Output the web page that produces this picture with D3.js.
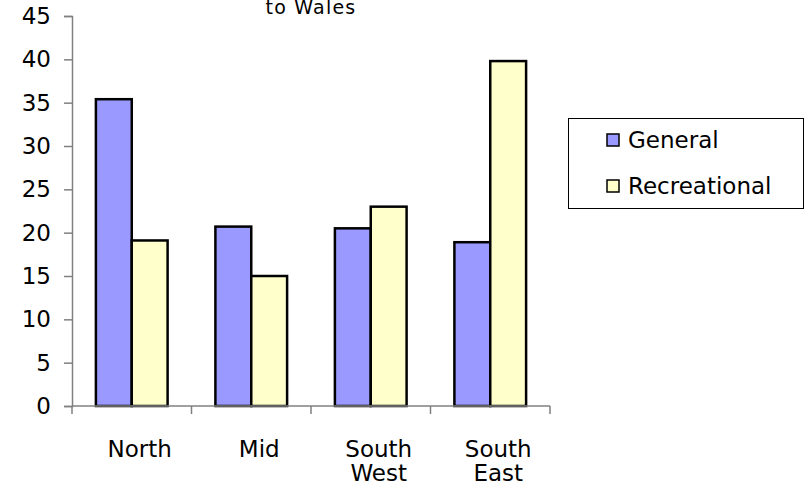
<html><head>
  <script src="https://d3js.org/d3.v7.min.js"></script>
  <style>
    body { margin: 0; background: #fff; }
    text { font-family: 'DejaVu Sans', Verdana, sans-serif; fill: #000; }
  </style>
</head>
<body>
  <script>
    // data
    const regions = ["North", "Mid", "South West", "South East"]
    const seriesNames = ["General", "Recreational"]
    const general = [35.4, 20.7, 20.5, 18.9]
    const recreational = [19.1, 15.0, 23.0, 39.8]
    const yTicks = [0, 5, 10, 15, 20, 25, 30, 35, 40, 45]
    const colors = ["#9999FF", "#FFFFCC"]

    const rows = regions.map((r, i) => ({region: r, values: [general[i], recreational[i]]}))

    const svg = d3.select("body").append("svg")
                  .attr("width", 808)
                  .attr("height", 487)

    const margin = {top: 16, left: 72, right: 258, bottom: 81}
    const chartRight = 808 - margin.right
    const chartBottom = 487 - margin.bottom

    const yScale = d3.scaleLinear().domain([0, 45]).range([chartBottom, margin.top])
    const xScale = d3.scaleBand().domain(regions).range([margin.left, chartRight])
    const bw = xScale.bandwidth()
    const innerScale = d3.scaleBand().domain(seriesNames).range([bw * 0.2, bw * 0.8])

    // title (first line is off the top of the picture)
    svg.append("text")
       .attr("x", 311).attr("y", 14)
       .attr("text-anchor", "middle")
       .style("font-size", "19px")
       .style("letter-spacing", "1.2px")
       .text("to Wales")

    // y axis
    const leftAxis = d3.axisLeft(yScale).tickValues(yTicks).tickSize(8).tickPadding(13)
    const yAxis = svg.append("g").attr("class", "y axis")
                     .attr("transform", `translate(${margin.left},0)`)
                     .call(leftAxis)
    yAxis.select(".domain").attr("stroke", "#808080").attr("stroke-width", 1.5)
    yAxis.selectAll(".tick line").attr("stroke", "#808080").attr("stroke-width", 1.5)
    yAxis.selectAll(".tick text").style("font-size", "23px").attr("fill", "#000")

    // bars
    const groups = svg.selectAll("g.region").data(rows)
                      .join("g").attr("class", "region")
                      .attr("transform", d => `translate(${xScale(d.region)},0)`)
    groups.selectAll("rect").data(d => d.values.map((v, i) => ({name: seriesNames[i], value: v, i: i})))
          .join("rect")
          .attr("x", d => innerScale(d.name))
          .attr("y", d => yScale(d.value))
          .attr("width", innerScale.bandwidth())
          .attr("height", d => yScale(0) - yScale(d.value))
          .attr("fill", d => colors[d.i])
          .attr("stroke", "#000")
          .attr("stroke-width", 2.5)

    // x axis: line plus ticks at band edges
    const xAxis = svg.append("g").attr("class", "x axis")
    xAxis.append("line")
         .attr("x1", margin.left).attr("x2", chartRight)
         .attr("y1", yScale(0)).attr("y2", yScale(0))
         .attr("stroke", "#808080").attr("stroke-width", 1.5)
    const edges = regions.map(r => xScale(r)).concat([xScale(regions[regions.length - 1]) + bw])
    xAxis.selectAll("line.tick").data(edges).join("line").attr("class", "tick")
         .attr("x1", d => d).attr("x2", d => d)
         .attr("y1", yScale(0)).attr("y2", yScale(0) + 8)
         .attr("stroke", "#808080").attr("stroke-width", 1.5)
    const labels = xAxis.selectAll("text").data(regions).join("text")
         .attr("x", d => xScale(d) + bw / 2 + 8)
         .attr("y", yScale(0) + 51)
         .attr("text-anchor", "middle")
         .style("font-size", "23px")
    labels.each(function(d) {
      const words = d.split(" ")
      d3.select(this).selectAll("tspan").data(words).join("tspan")
        .attr("x", xScale(d) + bw / 2 + 8)
        .attr("dy", (w, i) => i === 0 ? 0 : 24)
        .text(w => w)
    })

    // legend
    const legend = svg.append("g").attr("class", "legend")
    legend.append("rect")
          .attr("x", 568.5).attr("y", 118.5)
          .attr("width", 235).attr("height", 90)
          .attr("fill", "#fff").attr("stroke", "#000").attr("stroke-width", 1)
    const items = legend.selectAll("g.item").data(seriesNames).join("g").attr("class", "item")
          .attr("transform", (d, i) => `translate(607,${140 + i * 46})`)
    items.append("rect")
         .attr("x", 0).attr("y", -6).attr("width", 12).attr("height", 12)
         .attr("fill", (d, i) => colors[i]).attr("stroke", "#000").attr("stroke-width", 1.5)
    items.append("text")
         .attr("x", 21).attr("y", 8)
         .style("font-size", "23px")
         .text(d => d)
  </script>
</body></html>
